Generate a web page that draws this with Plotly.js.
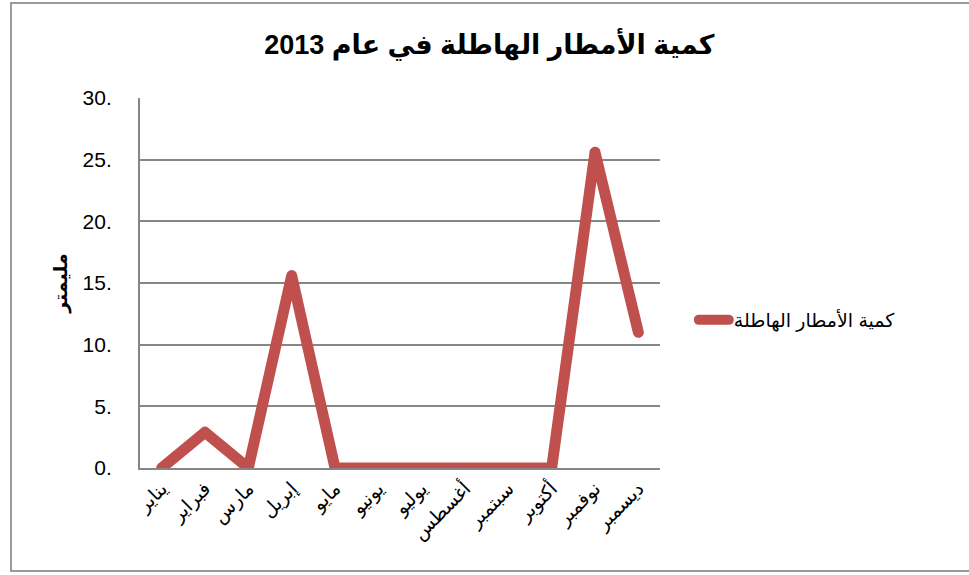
<!DOCTYPE html>
<html>
<head>
<meta charset="utf-8">
<script src="https://cdn.plot.ly/plotly-3.0.1.min.js"></script>
<style>
  html, body { margin: 0; padding: 0; background: #fff; }
  #wrap { position: relative; width: 969px; height: 575px; overflow: hidden; }
  #frame { position: absolute; left: 10px; top: 2px; width: 980px; height: 570px; border: 2px solid #9a9a9a; box-sizing: border-box; pointer-events: none; }
  #chart { position: absolute; left: 0; top: 0; width: 969px; height: 575px; }
  #chart path.js-line, #chart .legendlines path { stroke-linejoin: round !important; stroke-linecap: round !important; }
</style>
</head>
<body>
<div id="wrap">
  <div id="chart"></div>
  <div id="frame"></div>
</div>
<script>
const months = ['يناير', 'فبراير', 'مارس', 'إبريل', 'مايو', 'يونيو', 'يوليو', 'أغسطس', 'سبتمبر', 'أكتوبر', 'نوفمبر', 'ديسمبر'];
const rainfall = [0, 2.9, 0, 15.6, 0, 0, 0, 0, 0, 0, 25.6, 11.0];
const seriesName = 'كمية الأمطار الهاطلة';
const chartTitle = 'كمية الأمطار الهاطلة في عام 2013';
const yTitle = 'مليمتر';
const yTickVals = [0, 5, 10, 15, 20, 25, 30];
const yTickText = ['0.', '5.', '10.', '15.', '20.', '25.', '30.'];

const font = '"Liberation Sans", Arial, "DejaVu Sans", sans-serif';

Plotly.newPlot('chart', [{
  type: 'scatter',
  mode: 'lines',
  x: months,
  y: rainfall,
  name: seriesName,
  line: { color: '#C0504D', width: 11, shape: 'linear' },
  showlegend: true,
  hoverinfo: 'skip'
}], {
  width: 969,
  height: 575,
  margin: { l: 140, r: 309, t: 98, b: 107 },
  paper_bgcolor: '#ffffff',
  plot_bgcolor: '#ffffff',
  font: { family: font, color: '#000', size: 18 },
  title: {
    text: '<b>' + chartTitle + '</b>',
    font: { family: font, size: 27, color: '#000' },
    x: 0.505, xanchor: 'center',
    y: 1 - 45/575, yanchor: 'middle'
  },
  xaxis: {
    type: 'category',
    range: [-0.5, 11.5],
    tickangle: -45,
    tickfont: { size: 19, family: font },
    showgrid: false,
    showline: true,
    linecolor: '#868686',
    linewidth: 2,
    ticks: '',
    zeroline: false,
    fixedrange: true
  },
  yaxis: {
    range: [0, 30],
    tickvals: yTickVals,
    ticktext: yTickText,
    tickfont: { size: 21, family: font },
    showgrid: true,
    gridcolor: '#868686',
    gridwidth: 2,
    showline: true,
    linecolor: '#868686',
    linewidth: 2,
    ticks: '',
    ticklabelstandoff: 22,
    zeroline: false,
    title: { text: '<b>' + yTitle + '</b>', font: { size: 19, family: font }, standoff: 10 },
    fixedrange: true
  },
  showlegend: true,
  legend: {
    x: 1.065, xanchor: 'left',
    y: 0.40, yanchor: 'middle',
    font: { size: 19, family: font },
    bgcolor: 'rgba(0,0,0,0)'
  }
}, { displayModeBar: false, staticPlot: true });
</script>
</body>
</html>
